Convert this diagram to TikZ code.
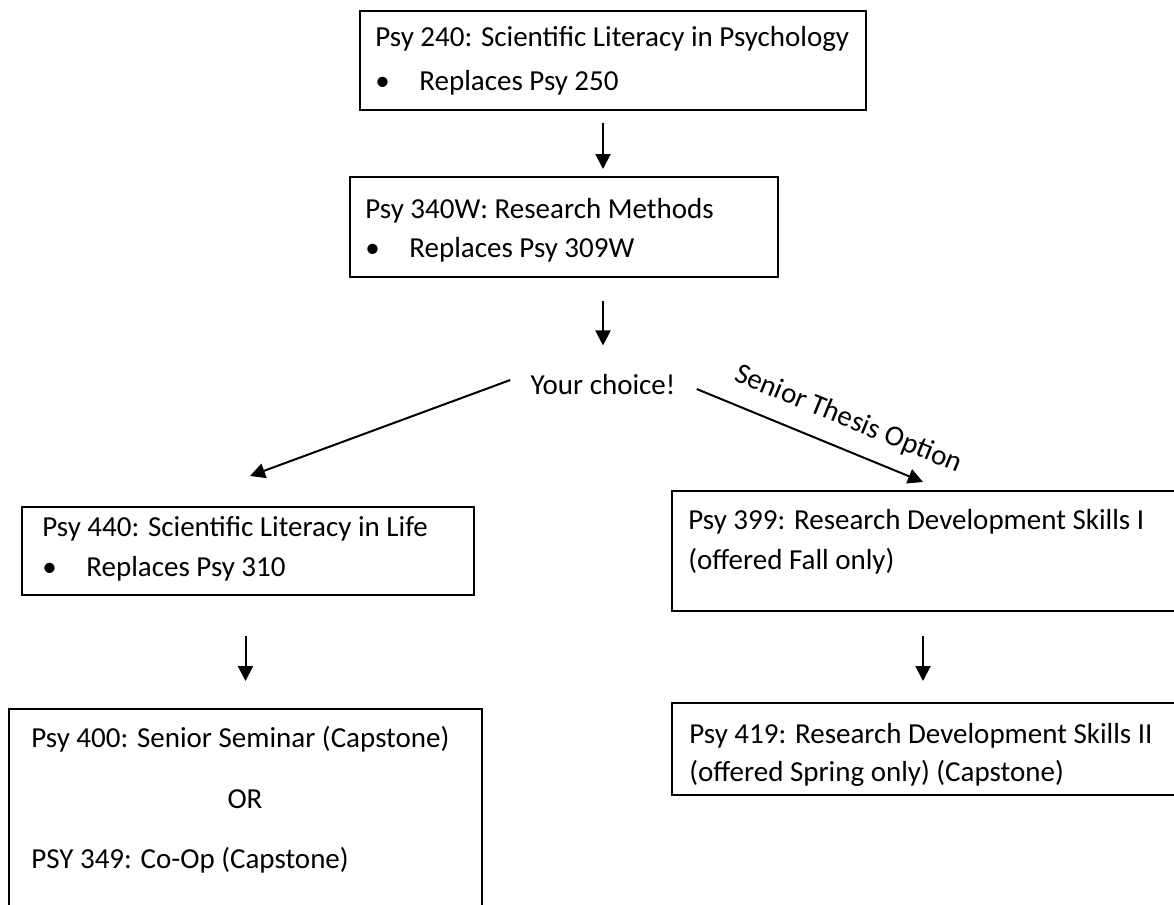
\documentclass[tikz,border=0pt]{standalone}
\usepackage{fontspec}
\setmainfont{Carlito}
\usetikzlibrary{arrows.meta}
\usetikzlibrary{calc}
\usetikzlibrary{fit}
\usetikzlibrary{positioning}
\newcommand\itemline[1]{\makebox[22pt][l]{\textbullet}#1}

\begin{document}
\begin{tikzpicture}[x=0.5pt, y=-0.5pt,
    course/.style={draw, line width=1pt, inner sep=0pt},
    txt/.style={inner sep=0pt, anchor=base west, font=\fontsize{14.5}{17}\selectfont},
    lbl/.style={inner sep=0pt, font=\fontsize{14.5}{17}\selectfont},
    flow/.style={line width=1pt, -{Triangle[length=7.5pt, width=7.5pt]}}]
    \useasboundingbox (0,0) rectangle (1174,905);
    %% boxes
    \node[course, fit={(360,11) (866,110)}] (b240) {};
    \node[course, fit={(350,177) (778,277)}] (b340) {};
    \node[course, fit={(22,507) (474,595)}] (b440) {};
    \node[course, fit={(672,491) (1185,611)}] (b399) {};
    \node[course, fit={(9,709) (482,915)}] (b400) {};
    \node[course, fit={(672,703) (1185,795)}] (b419) {};
    %% texts
    \node[txt] (t240) at (375,46) {Psy 240: Scientific Literacy in Psychology};
    \node[txt] (r250) at (375,90) {\itemline{Replaces Psy 250}};
    \node[txt] (t340) at (365,218) {Psy 340W: Research Methods};
    \node[txt] (r309) at (365,257) {\itemline{Replaces Psy 309W}};
    \node[txt] (t440) at (42,536) {Psy 440: Scientific Literacy in Life};
    \node[txt] (r310) at (42,576) {\itemline{Replaces Psy 310}};
    \node[txt] (t399) at (688,529) {Psy 399: Research Development Skills I};
    \node[txt] (fall) at (688,569) {(offered Fall only)};
    \node[txt] (t400) at (31,747) {Psy 400: Senior Seminar (Capstone)};
    \node[lbl, anchor=base] (or) at (245,808) {OR};
    \node[txt] (t349) at (31,868) {PSY 349: Co-Op (Capstone)};
    \node[txt] (t419) at (689,743) {Psy 419: Research Development Skills II};
    \node[txt] (spring) at (689,781) {(offered Spring only) (Capstone)};
    \node[lbl, anchor=base] (choice) at (603,394) {Your choice!};
    \coordinate (rcol) at (923,0);
    %% arrows
    \draw[flow, shorten <=6pt, shorten >=3.5pt] (b240.south -| choice) -- (b340.north -| choice);
    \draw[flow, shorten <=11.5pt, shorten >=14pt] (b340.south -| choice) -- (choice.north);
    \draw[flow] ($(choice.west)+(-20,-4)$) -- ($(b440.north)+(2,-30)$);
    \draw[flow] ($(choice.east)+(21,5)$) -- ($(b399.north -| rcol)+(0,-8)$)
        node[lbl, pos=0.62, sloped, above=8pt] (thesis) {Senior Thesis Option};
    \draw[flow, shorten <=20pt, shorten >=13.5pt] (b440.south -| b400.north) -- (b400.north);
    \draw[flow, shorten <=12pt, shorten >=10.5pt] (b399.south -| rcol) -- (b419.north -| rcol);
\end{tikzpicture}
\end{document}
